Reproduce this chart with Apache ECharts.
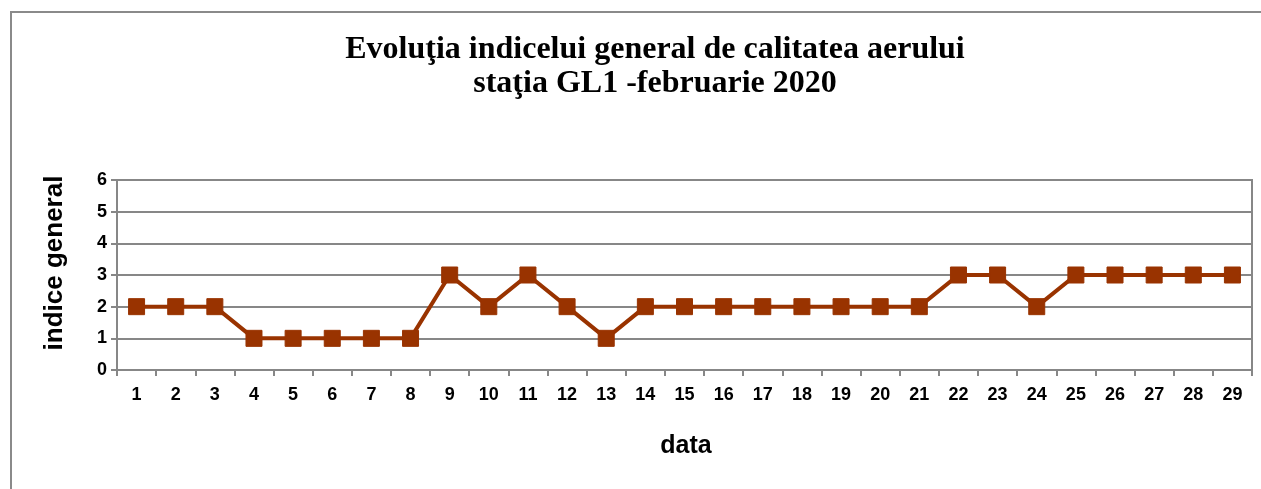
<!DOCTYPE html>
<html>
<head>
<meta charset="utf-8">
<script src="https://cdn.jsdelivr.net/npm/echarts@6/dist/echarts.min.js"></script>
<style>
  html, body { margin: 0; padding: 0; background: #fff; }
  #chart { width: 1261px; height: 489px; }
</style>
</head>
<body>
<div id="chart"></div>
<script>
// zilele lunii februarie 2020
const days = Array.from({ length: 29 }, (_, i) => String(i + 1))
const indexValues = [2, 2, 2, 1, 1, 1, 1, 1, 3, 2, 3, 2, 1, 2, 2, 2, 2, 2, 2, 2, 2, 3, 3, 2, 3, 3, 3, 3, 3]
const titleLines = ['Evoluţia indicelui general de calitatea aerului', 'staţia GL1 -februarie 2020']

const chart = echarts.init(document.getElementById('chart'), null, { renderer: 'canvas' })

const axisGray = '#878787'
const sans = 'Liberation Sans, Arial, sans-serif'

chart.setOption({
  backgroundColor: '#fff',
  animation: false,
  title: {
    text: titleLines.join('\n'),
    left: 650,
    top: 28,
    textAlign: 'center',
    textStyle: {
      fontFamily: 'Liberation Serif, Times New Roman, serif',
      fontWeight: 'bold',
      fontSize: 32,
      lineHeight: 34,
      color: '#000'
    }
  },
  graphic: [{
    type: 'rect',
    shape: { x: 11, y: 12, width: 1300, height: 520 },
    style: { fill: null, stroke: '#8a8a8a', lineWidth: 2 },
    silent: true
  }],
  grid: {
    left: 117,
    right: 9,
    top: 180,
    bottom: 119,
    show: true,
    borderColor: axisGray,
    borderWidth: 2,
    backgroundColor: 'transparent'
  },
  xAxis: {
    type: 'category',
    data: days,
    boundaryGap: true,
    name: 'data',
    nameLocation: 'middle',
    nameGap: 64,
    nameTextStyle: { fontFamily: sans, fontWeight: 'bold', fontSize: 25, color: '#000', padding: [0, 0, 0, 3] },
    axisLine: { lineStyle: { color: axisGray, width: 2 } },
    axisTick: { show: true, length: 6, alignWithLabel: false, lineStyle: { color: axisGray, width: 2 } },
    axisLabel: { margin: 16, fontFamily: sans, fontWeight: 'bold', fontSize: 18, color: '#000', interval: 0 },
    splitLine: { show: false }
  },
  yAxis: {
    type: 'value',
    min: 0,
    max: 6,
    interval: 1,
    name: 'indice general',
    nameLocation: 'middle',
    nameGap: 49,
    nameRotate: 90,
    nameTextStyle: { fontFamily: sans, fontWeight: 'bold', fontSize: 26, color: '#000', padding: [0, 0, 0, 24] },
    axisLine: { show: true, lineStyle: { color: axisGray, width: 2 } },
    axisTick: { show: true, length: 6, lineStyle: { color: axisGray, width: 2 } },
    axisLabel: { margin: 10, fontFamily: sans, fontWeight: 'bold', fontSize: 18, color: '#000' },
    splitLine: { show: true, lineStyle: { color: axisGray, width: 2 } }
  },
  series: [{
    type: 'line',
    data: indexValues,
    symbol: 'rect',
    symbolSize: 16,
    lineStyle: { color: '#993300', width: 4 },
    itemStyle: { color: '#993300', borderColor: '#993300' }
  }]
})
</script>
</body>
</html>
